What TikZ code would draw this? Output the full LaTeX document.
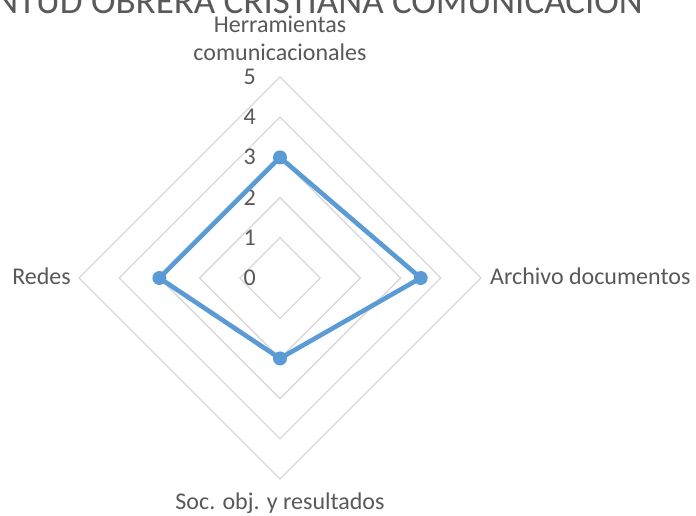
\documentclass[tikz,border=0pt]{standalone}
\usepackage{fontspec}
\setmainfont{Carlito}
\definecolor{txtgray}{HTML}{595959}
\definecolor{gridgray}{HTML}{D9D9D9}
\definecolor{serblue}{HTML}{5B9BD5}
\begin{document}
\begin{tikzpicture}[x=1pt,y=-1pt,
  gridline/.style={draw=gridgray,line width=1.3pt},
  lbl/.style={text=txtgray,inner sep=0pt,font=\fontsize{24}{29}\selectfont},
  titlestyle/.style={text=txtgray,inner sep=0pt,font=\fontsize{37}{44}\selectfont},
  serline/.style={draw=serblue,line width=4.6pt,line join=round},
  mk/.style={circle,fill=serblue,inner sep=0pt,minimum size=14pt}]
\useasboundingbox (0,0) rectangle (696,515);
\clip (0,0) rectangle (696,515);
\fill[white] (0,0) rectangle (696,515);
% grid rings
\foreach \k in {1,...,5}{
  \pgfmathsetmacro\r{40.2*\k}
  \draw[gridline] (280,{278-\r}) -- ({280+\r},278) -- (280,{278+\r}) -- ({280-\r},278) -- cycle;
}
% tick labels
\foreach \k in {0,...,5}{
  \node[lbl,anchor=base east] (tick\k) at (256,{285.5-40.2*\k}) {\k};
}
% series
\coordinate (ph) at (280,157.4);
\coordinate (pa) at (420.7,278);
\coordinate (ps) at (280,358.4);
\coordinate (pr) at (159.4,278);
\draw[serline] (ph) -- (pa) -- (ps) -- (pr) -- cycle;
\node[mk] (mh) at (ph) {};
\node[mk] (ma) at (pa) {};
\node[mk] (ms) at (ps) {};
\node[mk] (mr) at (pr) {};
% axis labels
\node[lbl,anchor=base] (h1) at (280,32) {Herramientas};
\node[lbl,anchor=base] (h2) at (280,60) {comunicacionales};
\node[lbl,anchor=base east] (redes) at (71,284) {Redes};
\node[lbl,anchor=base west] (arch) at (490,284) {Archivo documentos};
\node[lbl,anchor=base] (soc) at (280,509) {Soc. obj. y resultados};
% title (cropped at top/left as in the reference)
\node[titlestyle,anchor=base east] (title) at (643,13) {JUVENTUD OBRERA CRISTIANA COMUNICACION};
\end{tikzpicture}
\end{document}
